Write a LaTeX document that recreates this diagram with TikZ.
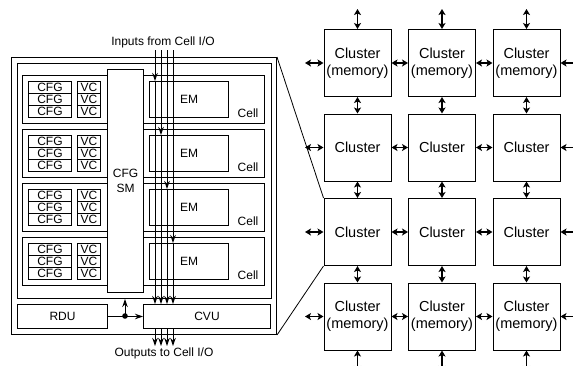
\documentclass[tikz,border=0pt]{standalone}
\usepackage{fontspec}
\setmainfont{Liberation Sans}
\usetikzlibrary{arrows.meta}

\tikzset{
  blk/.style={draw, line width=1pt, inner sep=0pt, anchor=north west},
  lbl/.style={font=\fontsize{12}{12}\selectfont, inner sep=0pt},
  clus/.style={draw, line width=1pt, minimum size=67pt, inner sep=0pt,
    align=center, font=\fontsize{14.5}{17}\selectfont},
  link/.style={line width=1.6pt, {Stealth[length=6pt,width=7pt,inset=1.5pt]}-{Stealth[length=6pt,width=7pt,inset=1.5pt]}},
  bus/.style={line width=1pt, -{Stealth[length=8pt,width=5.5pt]}}
}

\begin{document}
\begin{tikzpicture}[x=1pt, y=-1pt]
  \clip (0,0) rectangle (573,365);
  % chip frames
  \node[blk, minimum width=265pt, minimum height=277pt] (outer) at (11,57) {};
  \node[blk, minimum width=254pt, minimum height=235pt] (inner) at (17,63) {};
  % cells
  \foreach \i [evaluate=\i as \t using {75+54*(\i-1)}] in {1,...,4} {
    \node[blk, minimum width=242pt, minimum height=48pt] (cell\i) at (22,\t) {};
    \node[lbl] (celllbl\i) at (248,\t+38) {Cell};
    \node[blk, lbl, minimum width=79pt, minimum height=36pt] (em\i) at (149,\t+6) {EM};
    \foreach \j in {1,2,3} {
      \node[blk, lbl, minimum width=43pt, minimum height=12pt] (cfg\i\j) at (28,\t-6+12*\j) {CFG};
      \node[blk, lbl, minimum width=23pt, minimum height=12pt] (vc\i\j) at (77,\t-6+12*\j) {VC};
    }
  }
  \node[blk, lbl, fill=white, minimum width=36pt, minimum height=223pt, align=center] (sm) at (107,69) {CFG\\[3pt]SM};
  \node[blk, lbl, minimum width=90pt, minimum height=24pt] (rdu) at (17,304) {RDU};
  \node[blk, lbl, minimum width=127pt, minimum height=24pt] (cvu) at (143,304) {CVU};
  % I/O buses
  \node[lbl] (inlbl) at (163,42) {Inputs from Cell I/O};
  \node[lbl] (outlbl) at (164,353) {Outputs to Cell I/O};
  \foreach \k/\x in {1/155,2/161,3/167,4/173} {
    \coordinate (in\k) at (\x,50);
    \coordinate (out\k) at (\x,346);
    \draw[bus] (in\k) -- (in\k |- em\k.north);
    \draw[bus] (in\k |- em\k.north) -- (in\k |- cvu.north);
    \draw[bus] (in\k |- cvu.south) -- (out\k);
  }
  \coordinate (dot) at (125,316);
  \draw[bus] (rdu.east) -- (cvu.west);
  \draw[bus] (dot) -- (dot |- inner.south);
  \fill (dot) circle (2.8pt);
  % cluster array
  \foreach \r/\y in {1/63,4/316.5}
    \foreach \c/\x in {1/357.5,2/442,3/526.5}
      \node[clus] (cl\r\c) at (\x,\y) {Cluster\\(memory)};
  \foreach \r/\y in {2/147.5,3/232}
    \foreach \c/\x in {1/357.5,2/442,3/526.5}
      \node[clus] (cl\r\c) at (\x,\y) {Cluster};
  \foreach \r/\y in {1/63,2/147.5,3/232,4/316.5} {
    \coordinate (w\r) at (305,\y);
    \coordinate (e\r) at (580,\y);
    \draw[link] (w\r) -- (cl\r1.west);
    \draw[link] (cl\r1.east) -- (cl\r2.west);
    \draw[link] (cl\r2.east) -- (cl\r3.west);
    \draw[link] (cl\r3.east) -- (e\r);
  }
  \foreach \c/\x in {1/357.5,2/442,3/526.5} {
    \coordinate (n\c) at (\x,9);
    \coordinate (s\c) at (\x,372);
    \draw[link] (n\c) -- (cl1\c.north);
    \draw[link] (cl1\c.south) -- (cl2\c.north);
    \draw[link] (cl2\c.south) -- (cl3\c.north);
    \draw[link] (cl3\c.south) -- (cl4\c.north);
    \draw[link] (cl4\c.south) -- (s\c);
  }
  % zoom lines
  \draw[line width=0.8pt] (outer.north east) -- (cl31.north west);
  \draw[line width=0.8pt] (outer.south east) -- (cl31.south west);
\end{tikzpicture}
\end{document}
